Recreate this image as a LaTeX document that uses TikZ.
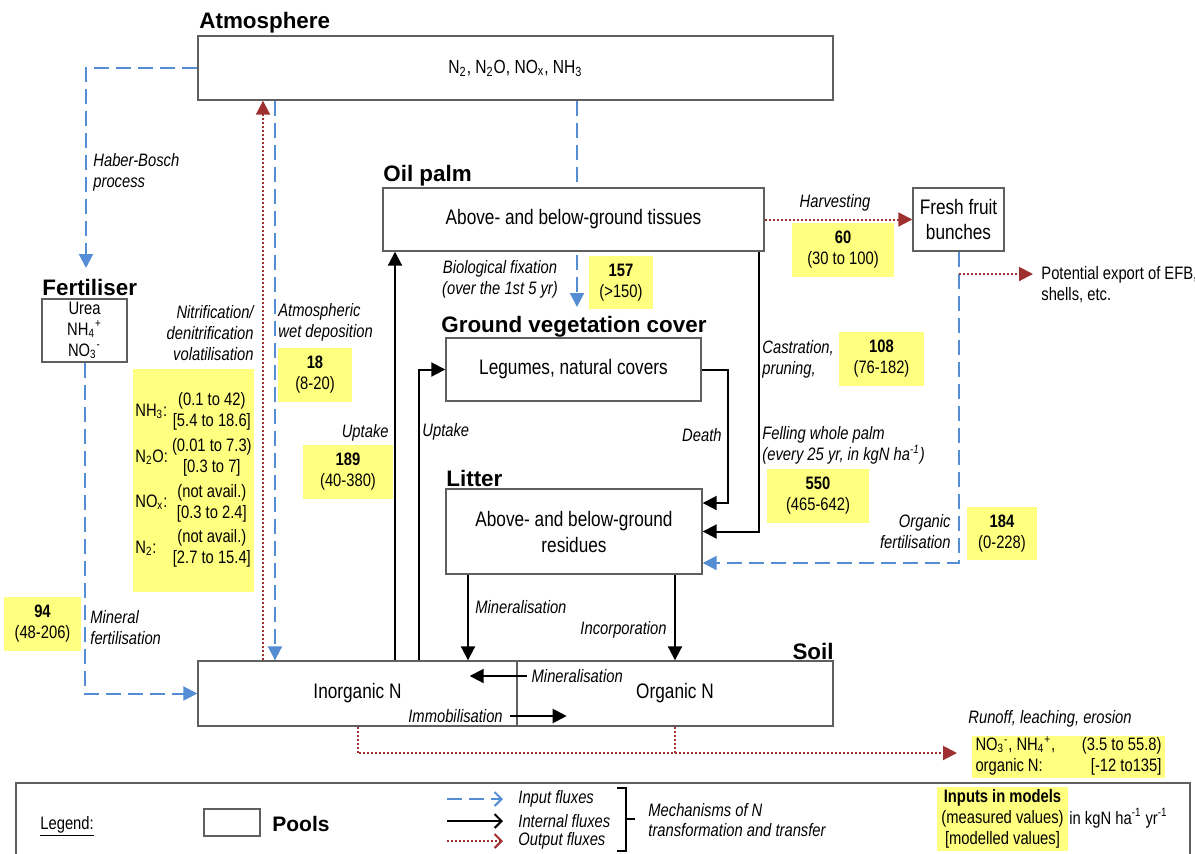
\documentclass[tikz,border=0pt]{standalone}
\usepackage{fontspec}
\setmainfont{Liberation Sans}[FakeStretch=0.82]
\newfontfamily\headfont{Liberation Sans}
\usetikzlibrary{arrows.meta,backgrounds}
\definecolor{fluxblue}{RGB}{84,141,212}
\definecolor{fluxred}{RGB}{158,48,48}
\definecolor{valyellow}{RGB}{255,255,128}
\definecolor{poolline}{RGB}{95,95,95}
\begin{document}
\begin{tikzpicture}[
		x=0.5pt, y=-0.5pt,
		pool/.style={draw=poolline, line width=0.7pt, fill=white, inner sep=2pt, align=center, font=\fontsize{10.5}{12.5}\selectfont},
		pooltitle/.style={font=\headfont\bfseries\fontsize{11.2}{13}\selectfont, inner sep=0pt, anchor=base west},
		valbox/.style={fill=valyellow, inner sep=1pt, minimum height=27pt, align=center, font=\fontsize{9}{10.5}\selectfont},
		lbl/.style={font=\itshape\fontsize{9}{10.5}\selectfont, inner sep=0pt},
		fluxtip/.style={-{Triangle[length=7pt,width=7pt]}},
		influx/.style={fluxtip, fluxblue, line width=1pt, dash pattern=on 7.5pt off 3.5pt},
		intflux/.style={fluxtip, black, line width=1pt},
		outdots/.style={fluxred, line width=1pt, dash pattern=on 1pt off 1pt},
		outflux/.style={fluxtip, outdots},
		legbarb/.style={-{Straight Barb[length=3.5pt,width=7pt]}},
	]
	\useasboundingbox (0,0) rectangle (1195,853);

	% pools
	\node[pool, minimum width=317.5pt, minimum height=32pt, font=\fontsize{9.5}{11}\selectfont] (atm) at (515.5,68) {N\textsubscript{2}, N\textsubscript{2}O, NO\textsubscript{x}, NH\textsubscript{3}};
	\node[pool, minimum width=190.5pt, minimum height=31.5pt] (palm) at (573.5,219.5) {Above- and below-ground tissues};
	\node[pool, minimum width=45.5pt, minimum height=31.5pt] (ffb) at (958.5,219.5) {Fresh fruit\\bunches};
	\node[pool, minimum width=42.5pt, minimum height=31.5pt, inner sep=1pt, font=\fontsize{9}{10.5}\selectfont] (fert) at (84.5,330.5) {Urea\\NH\textsubscript{4}\textsuperscript{+}\\NO\textsubscript{3}\textsuperscript{-}};
	\node[pool, minimum width=127.5pt, minimum height=31.5pt] (veg) at (573.5,369.5) {Legumes, natural covers};
	\node[pool, minimum width=128pt, minimum height=42.5pt, font=\fontsize{10.5}{13}\selectfont] (litter) at (574,531.5) {Above- and below-ground\\residues};
	\node[pool, minimum width=159.5pt, minimum height=32.5pt] (inorg) at (357.5,693.5) {Inorganic N};
	\node[pool, minimum width=158pt, minimum height=32.5pt] (org) at (675,693.5) {Organic N};

	\node[pooltitle] (atmtitle) at (199,28) {Atmosphere};
	\node[pooltitle] (ferttitle) at (42,295) {Fertiliser};
	\node[pooltitle] (palmtitle) at (383,181) {Oil palm};
	\node[pooltitle] (vegtitle) at (441,332) {Ground vegetation cover};
	\node[pooltitle] (littertitle) at (446,486) {Litter};
	\node[pooltitle, anchor=base east] (soiltitle) at (834,659) {Soil};

	% helper coordinates
	\coordinate (habertip) at (86,268);
	\coordinate (fixtip) at (577,307);
	\coordinate (volx) at (263,0);
	\coordinate (depx) at (275,0);
	\coordinate (upx1) at (395,0);
	\coordinate (upx2) at (419,0);
	\coordinate (deathx) at (728,0);
	\coordinate (fellx) at (759,0);
	\coordinate (minx) at (468,0);
	\coordinate (exptip) at (1033,274);
	\coordinate (runtip) at (957,753);
	\coordinate (littop) at ([yshift=14.25pt]litter.east);
	\coordinate (litbot) at ([yshift=-15.75pt]litter.east);

	% fluxes
	\begin{scope}[on background layer]
		\draw[influx] (fixtip |- atm.south) -- (fixtip);
	\end{scope}
	\draw[influx] (atm.west) -| (habertip);
	\draw[influx] (fert.south) |- (inorg.west);
	\draw[outflux] (volx |- inorg.north) -- (volx |- atm.south);
	\draw[influx] (depx |- atm.south) -- (depx |- inorg.north);
	\draw[intflux] (upx1 |- inorg.north) -- (upx1 |- palm.south);
	\draw[intflux] (upx2 |- inorg.north) |- (veg.west);
	\draw[intflux] (veg.east) -- (veg.east -| deathx) -- (deathx |- littop) -- (littop);
	\draw[intflux] (fellx |- palm.south) |- (litter.east);
	\draw[influx] (ffb.south) |- (litbot);
	\draw[outflux] (palm.east) -- (ffb.west);
	\draw[outflux] (ffb.south |- exptip) -- (exptip);
	\draw[intflux] (minx |- litter.south) -- (minx |- inorg.north);
	\draw[intflux] (litter.south -| org.north) -- (org.north);
	\draw[intflux] ([xshift=4.5pt,yshift=8.75pt]inorg.east) node[lbl, right=2pt] {Mineralisation} -- ++(-57,0);
	\draw[intflux] ([xshift=-4pt,yshift=-11.25pt]inorg.east) node[lbl, left=3pt] {Immobilisation} -- ++(57,0);
	\draw[outflux] (inorg.south) |- (runtip);
	\draw[outdots] (org.south) -- (org.south |- runtip);

	% flux labels
	\node[lbl, anchor=west, align=left] (haberlbl) at (93,172.5) {Haber-Bosch\\process};
	\node[lbl, anchor=east, align=right] (nitrlbl) at (254,333) {Nitrification/\\denitrification\\volatilisation};
	\node[lbl, anchor=west, align=left] (wetlbl) at (278,322.5) {Atmospheric\\wet deposition};
	\node[lbl, anchor=east] (uplbl1) at (389,433) {Uptake};
	\node[lbl, anchor=west] (uplbl2) at (422,432) {Uptake};
	\node[lbl, anchor=east] (deathlbl) at (722,435) {Death};
	\node[lbl, align=center] (fixlbl) at (500,279.5) {Biological fixation\\(over the 1st 5 yr)};
	\node[lbl] (harvlbl) at (835,203) {Harvesting};
	\node[lbl, anchor=west, align=left] (castlbl) at (762,359) {Castration,\\pruning,};
	\node[lbl, anchor=west, align=left] (felllbl) at (762,445.5) {Felling whole palm\\(every 25 yr, in kgN ha\textsuperscript{-1})};
	\node[lbl, anchor=east, align=right] (orglbl) at (951,532) {Organic\\fertilisation};
	\node[lbl, anchor=west, align=left] (minfertlbl) at (90,627.5) {Mineral\\fertilisation};
	\node[lbl, anchor=west] (minlbl) at (475,607) {Mineralisation};
	\node[lbl, anchor=east] (inclbl) at (667,630) {Incorporation};
	\node[lbl, anchor=west] (runlbl) at (968,719) {Runoff, leaching, erosion};
	\node[anchor=north west, align=left, inner sep=0pt, font=\fontsize{9}{10.5}\selectfont] (explbl) at (1041,266) {Potential export of EFB,\\shells, etc.};

	% values
	\node[valbox, minimum width=37pt] (v18) at (315,375) {\textbf{18}\\(8-20)};
	\node[valbox, minimum width=45pt] (v189) at (348,472) {\textbf{189}\\(40-380)};
	\node[valbox, minimum width=32pt, minimum height=26.5pt] (v157) at (621,282.5) {\textbf{157}\\(\textgreater150)};
	\node[valbox, minimum width=51pt] (v60) at (843,250) {\textbf{60}\\(30 to 100)};
	\node[valbox, minimum width=42.5pt] (v108) at (881.5,359) {\textbf{108}\\(76-182)};
	\node[valbox, minimum width=51pt] (v550) at (818,496) {\textbf{550}\\(465-642)};
	\node[valbox, minimum width=35pt, minimum height=26.5pt] (v184) at (1002,533.5) {\textbf{184}\\(0-228)};
	\node[valbox, minimum width=38.5pt] (v94) at (42.5,624) {\textbf{94}\\(48-206)};
	\node[valbox, minimum width=60.5pt, minimum height=111.5pt] (vnit) at (193.5,480.5) {%
		\begin{tabular}{@{}l@{\hspace{2pt}}c@{}}
			NH\textsubscript{3}: & \begin{tabular}{@{}c@{}}(0.1 to 42)\\{[}5.4 to 18.6]\end{tabular}\\[7pt]
			N\textsubscript{2}O: & \begin{tabular}{@{}c@{}}(0.01 to 7.3)\\{[}0.3 to 7]\end{tabular}\\[7pt]
			NO\textsubscript{x}: & \begin{tabular}{@{}c@{}}(not avail.)\\{[}0.3 to 2.4]\end{tabular}\\[7pt]
			N\textsubscript{2}: & \begin{tabular}{@{}c@{}}(not avail.)\\{[}2.7 to 15.4]\end{tabular}
		\end{tabular}};
	\node[valbox, inner sep=0pt, minimum width=96.5pt, minimum height=21pt] (vrun) at (1068.5,757) {%
		\begin{tabular*}{93pt}{@{}l@{\extracolsep{\fill}}r@{}}
			NO\textsubscript{3}\textsuperscript{-}, NH\textsubscript{4}\textsuperscript{+}, & (3.5 to 55.8)\\
			organic N: & {[}-12 to135]
		\end{tabular*}};

	% legend
	\node[draw=poolline, line width=0.7pt, minimum width=587pt, minimum height=43.5pt] (legframe) at (603,826.5) {};
	\node[anchor=base west, inner sep=0pt, font=\fontsize{9}{10.5}\selectfont] (legtitle) at (40,829) {\underline{Legend:}};
	\node[pool, minimum width=28pt, minimum height=13.5pt] (legpool) at (232,822.5) {};
	\node[pooltitle, font=\headfont\bfseries\fontsize{10.5}{12}\selectfont] (legpooltxt) at (272,831) {Pools};
	\node[lbl, anchor=west] (legin) at (518,799) {Input fluxes};
	\node[lbl, anchor=west] (legint) at (518,821) {Internal fluxes};
	\node[lbl, anchor=west] (legout) at (518,841) {Output fluxes};
	\coordinate (legarr) at (447,0);
	\draw[influx, legbarb] (legarr |- legin.west) -- ([xshift=-7.5pt]legin.west);
	\draw[intflux, legbarb] (legarr |- legint.west) -- ([xshift=-7.5pt]legint.west);
	\draw[outflux, legbarb] (legarr |- legout.west) -- ([xshift=-7.5pt]legout.west);
	\draw[line width=0.7pt] (617,788) -- (626,788) -- (626,851) -- (617,851) (626,819) -- (635,819);
	\node[lbl, anchor=west, align=left, font=\itshape\fontsize{9}{10}\selectfont] (mechlbl) at (648,820) {Mechanisms of N\\transformation and transfer};
	\node[valbox, minimum width=65.5pt, minimum height=32pt] (vleg) at (1002.5,819) {\textbf{Inputs in models}\\(measured values)\\{[}modelled values]};
	\node[anchor=west, inner sep=0pt, font=\fontsize{9}{10.5}\selectfont] (unitlbl) at (1069,818) {in kgN ha\textsuperscript{-1} yr\textsuperscript{-1}};
\end{tikzpicture}
\end{document}
